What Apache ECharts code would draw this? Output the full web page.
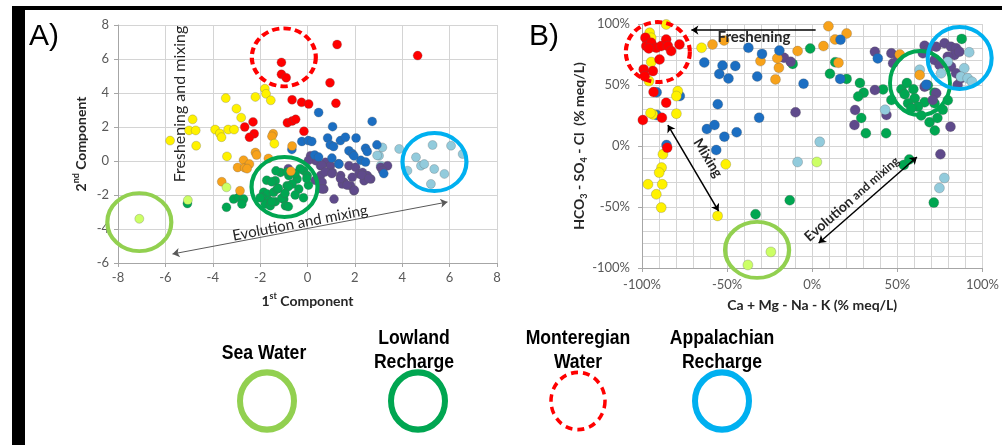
<!DOCTYPE html>
<html><head><meta charset="utf-8">
<script src="https://cdn.jsdelivr.net/npm/echarts@6/dist/echarts.min.js"></script>
<style>html,body{margin:0;padding:0;background:#fff}#c{width:1002px;height:445px}</style>
</head><body><div id="c"></div>
<script>
// ---------- Panel A: PCA scores (1st, 2nd component) ----------
const A_yellow = [[-5.8,1.2],[-4.85,2.45],[-5.0,1.8],[-4.72,1.8],[-4.7,0.9],[-3.45,3.7],[-3.0,3.08],[-2.8,2.55],[-3.9,1.85],[-3.7,1.62],[-3.63,1.4],[-3.35,1.85],[-3.1,1.85],[-3.4,0.27],[-2.2,3.77],[-1.8,4.25],[-1.75,3.95],[-1.55,3.57],[-1.4,1.02]];
const A_orange = [[-1.45,1.6],[-1.5,1.45],[-2.2,0.5],[-2.15,0.35],[-2.7,0.05],[-2.95,-0.38],[-2.65,-0.4],[-2.45,-0.18],[-2.55,-0.45],[-1.65,0.15],[-3.62,-1.22],[-2.85,-1.75],[-0.65,0.88],[-0.7,-0.6]];
const A_red = [[-1.1,5.8],[-1.1,5.1],[-0.9,4.9],[1.25,6.85],[4.65,6.2],[0.95,4.6],[1.2,3.4],[-0.65,3.6],[-0.25,3.45],[0.05,3.35],[-0.85,2.25],[-0.65,2.35],[-0.5,2.45],[-0.15,1.75],[-2.3,2.3],[-2.65,2.0],[-2.25,1.6],[-2.45,1.4]];
const A_blue = [[0.47,2.85],[1.06,2.02],[2.73,2.33],[-0.24,1.15],[0.04,1.2],[0.18,1.15],[0.85,1.35],[0.96,0.95],[1.1,0.85],[1.39,1.2],[1.6,1.4],[2.05,1.35],[2.45,0.75],[2.52,0.56],[2.93,0.95],[-0.66,0.68],[0.3,0.35],[0.47,0.23],[1.03,0.17],[1.31,-0.16],[1.75,0.6],[1.9,0.42],[2.25,0.04],[2.45,-0.06],[3.22,-0.74],[1.33,-0.18],[1.96,0.3]];
const A_purple = [[0.13,0.31],[0.34,0.02],[0.55,-0.28],[0.76,-0.08],[0.97,-0.28],[1.05,-0.67],[0.55,-0.86],[0.62,-1.25],[0.69,-1.65],[1.4,-0.86],[1.54,-1.25],[1.75,-0.28],[2.03,-0.37],[2.17,-0.76],[1.89,-0.96],[2.32,-0.67],[2.53,-0.86],[2.67,-1.06],[2.39,-1.16],[1.82,-1.45],[1.47,-1.35],[1.96,-1.75],[1.12,-2.24],[3.09,-0.37],[3.38,-0.28],[3.17,-0.57],[0.04,0.04],[0.61,-0.25],[0.75,-0.64],[1.03,-0.74],[-0.81,-0.45],[0.33,-1.13],[0.61,-1.65],[1.98,-1.71],[1.39,-1.03],[1.67,-1.42],[2.3,-0.83],[2.59,-1.03]];
const A_green = [[-5.07,-2.5],[-3.42,-2.72],[-3.12,-2.24],[-2.91,-2.14],[-2.7,-2.24],[-2.77,-2.53],[-1.85,-1.84],[-1.71,-1.94],[-1.92,-2.14],[-1.64,-2.33],[-1.43,-1.84],[-1.28,-1.65],[-1.36,-2.39],[-1.0,-2.24],[-0.86,-1.45],[-1.14,-0.67],[-1.36,-1.16],[-0.79,-0.86],[-0.44,-1.06],[-0.37,-1.65],[-0.65,-1.35],[-0.16,-0.57],[-0.01,-0.86],[-1.78,-2.53],[-1.57,-2.63],[-0.93,-2.63],[-1.33,-0.58],[-1.72,-1.13],[-1.51,-1.22],[-0.85,-0.64],[-0.31,-0.45],[-0.52,-0.74],[-0.81,-1.51],[-1.23,-1.61],[-1.51,-2.39],[-1.09,-2.19],[-0.81,-2.68],[-0.52,-2.0],[-0.17,-2.16],[0.04,-1.42],[-2.0,-2.16],[-0.95,-1.9],[-0.03,-1.03]];
const A_lightblue = [[3.16,0.8],[3.87,0.71],[3.02,0.31],[3.09,-0.28],[4.58,0.22],[4.79,-0.28],[5.28,0.94],[6.06,0.9],[6.55,0.41],[5.35,-0.47],[5.78,-0.76],[5.21,-1.35],[4.22,-0.57],[4.93,-0.18],[2.94,0.33]];
const A_sea = [[-7.1,-3.4],[-5.05,-2.3],[-3.42,-1.55]];
// end-member circles (centre, size) and arrow for panel A
const A_circles = [
  {name:'Monteregian Water', c:[-1.0,6.1], s:[64,58]},
  {name:'Sea Water', c:[-7.1,-3.6], s:[64,58]},
  {name:'Lowland Recharge', c:[-0.97,-1.53], s:[66,60]},
  {name:'Appalachian Recharge', c:[5.36,-0.06], s:[64,58]}
];
const A_arrow = [[-5.7,-5.47],[5.91,-2.41]];
const A_ticks = {min:-8, max:8, ymin:-6, ymax:8, step:2};

// ---------- Panel B: ionic balance (% meq/L) ----------
const B_yellow = [[-95.5,92.8],[-85.8,99.6],[-94.6,88.7],[-94.6,68.8],[-95.9,53.2],[-79,45],[-79.8,40.9],[-79.8,26.5],[-93.6,25.9],[-87.7,-6.8],[-88.5,-17.7],[-89.9,-21.8],[-96.5,-31.4],[-88.1,-31.4],[-91.6,-39.6],[-88.7,-50.5],[-50.8,-15],[-55.6,-57.3],[-65,80.5],[-95,27]];
const B_orange = [[9.5,98.2],[20.2,92.2],[6.6,81.9],[13.4,87.3],[15.4,68.2],[-8.6,77.8],[-21.6,54.6],[-19.6,64.1],[-30.4,69.6],[-58.6,83.2],[-51.8,86.5],[51.4,75],[-20.5,71.9],[63.1,58.2]];
const B_red = [[-98,88.7],[-97.5,81.9],[-94.6,84.6],[-91.6,80.5],[-88.7,81.9],[-85.8,87.3],[-84.8,81.9],[-82.9,77.8],[-78,83.2],[-89.7,70.9],[-99,62.8],[-93.6,61.4],[-98.4,57.3],[-85.8,35.5],[-88.3,23.2],[-99.5,21.3],[-93.2,44.2],[-85.2,-1.4],[-96,80]];
const B_blue = [[-37.5,80.5],[-29.5,75.5],[-19.3,78.3],[-63.4,68.4],[-52.7,66],[-54.6,59],[-49.2,55.3],[-45.2,65.6],[-32.3,57],[-5.1,51],[-55.5,34.2],[-31.2,23.2],[-61.9,13.9],[-57.4,17.2],[-51.6,7.6],[-44.4,11.2],[-56.4,-3.3],[-85.6,0.8],[-91.4,44],[-77.8,41],[-91.4,25.4],[16.6,87.1],[38.5,71.8],[16.4,55],[67,50.3]];
const B_green = [[-1.2,79.9],[13.5,68.7],[10.4,59.2],[20.2,55],[28,51.6],[30.2,43.7],[27,40.6],[28.8,23],[31.5,10.4],[43.4,10.4],[41.6,46.4],[46.5,37.7],[52.4,46.5],[55.6,51.6],[59.4,46.5],[54.3,42.4],[60.2,39.1],[66,35.8],[62.1,32.2],[64,25],[68.9,19.5],[72,12.7],[73.5,23],[76.7,29.7],[79.6,37.5],[87.8,87.8],[71.8,35],[56.3,35],[58.2,31],[71.8,43.7],[67.9,49.7],[-11.5,67.3],[-13.2,-44.5],[-33.3,-55.9],[53.8,-15.5],[57,-11],[71.4,-46.4]];
const B_purple = [[36.8,77.2],[46.5,76],[47.5,67.8],[50.4,73.2],[66,82.2],[67.9,78.7],[65,76],[72.8,81.4],[77.7,84.2],[81.5,81.4],[84.5,80.1],[83.5,74.6],[86.4,77.3],[79.6,73.2],[71.8,70.5],[74.8,66.4],[81.5,65],[84.5,59.6],[87.4,55.5],[85.4,50],[72.8,43.2],[70.8,37.7],[66,48.6],[36.8,45.9],[25.2,29.5],[24.8,17.2],[43.6,25.4],[81.2,15.8],[75.3,-6.8],[-16.6,72.4],[-12.7,69.1],[-9.8,27.6]];
const B_lightblue = [[4.4,3.4],[-8.6,-13.1],[77.6,-26.2],[74.7,-34.4],[63.1,62.5],[42.8,29.7],[92.2,76.8],[89.3,63.7],[87.3,56.8],[91.3,55.5],[93.8,52.7],[75.7,59.6],[79.6,69.1]];
const B_sea = [[-37.8,-97.5],[-24.3,-86.8],[2.7,-13.1]];
const B_circles = [
  {name:'Monteregian Water', c:[-90.7,77], s:[64,60]},
  {name:'Lowland Recharge', c:[63.3,51.6], s:[60,64]},
  {name:'Appalachian Recharge', c:[86.6,72.1], s:[64,62]},
  {name:'Sea Water', c:[-32.4,-85.2], s:[64,56]}
];
const B_fresh = [[2,95],[-71,95]];
const B_mix = [[-84.8,17.2],[-55,-53.3]];
const B_evol = [[3.8,-79.5],[61.5,-9]];

// legend entries
const legendNames = ['Sea Water','Lowland\nRecharge','Monteregian\nWater','Appalachian\nRecharge'];

const COL = {yellow:'#FFF200', orange:'#F7A21B', red:'#FF0000', blue:'#1B6EC2', purple:'#5F4A8B', green:'#00A651', lightblue:'#92CBDC', sea:'#CCFF66'};
const CIRC = {'Sea Water':'#92D050','Lowland Recharge':'#00A651','Monteregian Water':'#FF0000','Appalachian Recharge':'#00B0F0'};

function pts(data, color, xi, size){
  return {type:'scatter', xAxisIndex:xi, yAxisIndex:xi, data:data, symbolSize:size, silent:true,
    itemStyle:{color:color, borderColor:'rgba(90,90,90,0.45)', borderWidth:0.6, opacity:1}};
}
function circles(list, xi){
  return list.map(o => ({type:'scatter', xAxisIndex:xi, yAxisIndex:xi, silent:true, z:5,
    data:[o.c], symbol:'circle', symbolSize:o.s,
    itemStyle:{color:'rgba(0,0,0,0)', borderColor:CIRC[o.name], borderWidth:4,
      borderType: o.name==='Monteregian Water' ? [7,4] : 'solid', opacity:1}}));
}
function arrow(coords, xi, color, width, sym){
  return {type:'lines', coordinateSystem:'cartesian2d', xAxisIndex:xi, yAxisIndex:xi, silent:true, z:6,
    symbol:sym, symbolSize:7, data:[{coords:coords}],
    lineStyle:{color:color, width:width, opacity:1, curveness:0}};
}

const lab = {color:'#595959', fontFamily:'Lato', fontSize:13};
const axA = {axisLine:{show:true, onZero:false, lineStyle:{color:'#a6a6a6'}}, axisTick:{show:true, length:4, lineStyle:{color:'#a6a6a6'}},
  splitLine:{show:true, lineStyle:{color:'#d4d4d4'}}};
const legFont = "'Liberation Sans'";

const option = {
  animation:false,
  grid:[{left:118, top:25, width:379, height:238},{left:642, top:24, width:343, height:244}],
  xAxis:[
    Object.assign({type:'value', gridIndex:0, min:A_ticks.min, max:A_ticks.max, interval:A_ticks.step,
      axisLabel:Object.assign({margin:8}, lab),
      name:'{a|1}{s|st}{a| Component}', nameLocation:'middle', nameGap:29,
      nameTextStyle:{rich:{a:{fontFamily:'Lato', fontWeight:'bold', fontSize:14, color:'#262626', lineHeight:18},
        s:{fontFamily:'Lato', fontWeight:'bold', fontSize:9, color:'#262626', verticalAlign:'top', lineHeight:12}}}}, axA),
    Object.assign({type:'value', gridIndex:1, min:-100, max:100, interval:50,
      axisLabel:Object.assign({margin:10, formatter:v=>v+'%'}, lab),
      minorTick:{show:false, splitNumber:5}, minorSplitLine:{show:true, lineStyle:{color:'#d4d4d4'}},
      name:'Ca + Mg - Na - K (% meq/L)', nameLocation:'middle', nameGap:30,
      nameTextStyle:{fontFamily:'Lato', fontWeight:'bold', fontSize:14, color:'#262626'}}, axA)
  ],
  yAxis:[
    Object.assign({type:'value', gridIndex:0, min:A_ticks.ymin, max:A_ticks.ymax, interval:A_ticks.step,
      axisLabel:Object.assign({margin:9}, lab),
      name:'{a|2}{s|nd}{a| Component}', nameLocation:'middle', nameGap:28, nameRotate:90,
      nameTextStyle:{rich:{a:{fontFamily:'Lato', fontWeight:'bold', fontSize:14, color:'#262626', lineHeight:18},
        s:{fontFamily:'Lato', fontWeight:'bold', fontSize:9, color:'#262626', verticalAlign:'top', lineHeight:12}}}}, axA),
    Object.assign({type:'value', gridIndex:1, min:-100, max:100, interval:50,
      axisLabel:Object.assign({margin:12, formatter:v=>v+'%'}, lab),
      minorTick:{show:false, splitNumber:5}, minorSplitLine:{show:true, lineStyle:{color:'#d4d4d4'}},
      name:'{a|HCO}{b|3}{a| - SO}{b|4}{a| - Cl  (% meq/L)}', nameLocation:'middle', nameGap:47, nameRotate:90,
      nameTextStyle:{rich:{a:{fontFamily:'Lato', fontWeight:'bold', fontSize:14, color:'#262626', lineHeight:18},
        b:{fontFamily:'Lato', fontWeight:'bold', fontSize:9, color:'#262626', verticalAlign:'bottom', lineHeight:12}}}}, axA)
  ],
  series:[
    pts(A_lightblue, COL.lightblue, 0, 9), pts(A_purple, COL.purple, 0, 9), pts(A_blue, COL.blue, 0, 9),
    pts(A_green, COL.green, 0, 9), pts(A_orange, COL.orange, 0, 9), pts(A_yellow, COL.yellow, 0, 9),
    pts(A_red, COL.red, 0, 9), pts(A_sea, COL.sea, 0, 9),
    ...circles(A_circles, 0),
    arrow(A_arrow, 0, '#595959', 1, ['arrow','arrow']),
    pts(B_green, COL.green, 1, 10), pts(B_purple, COL.purple, 1, 10), pts(B_lightblue, COL.lightblue, 1, 10),
    pts(B_orange, COL.orange, 1, 10), pts(B_blue, COL.blue, 1, 10), pts(B_yellow, COL.yellow, 1, 10),
    pts(B_red, COL.red, 1, 10), pts(B_sea, COL.sea, 1, 10),
    ...circles(B_circles, 1),
    arrow(B_fresh, 1, '#000', 1.5, ['none','arrow']),
    arrow(B_mix, 1, '#000', 1.5, ['arrow','arrow']),
    arrow(B_evol, 1, '#000', 1.5, ['arrow','arrow'])
  ],
  graphic:[
    {type:'rect', shape:{x:12, y:6, width:990, height:4}, style:{fill:'#000'}, silent:true},
    {type:'rect', shape:{x:12, y:6, width:13, height:439}, style:{fill:'#000'}, silent:true},
    {type:'text', x:29, y:22, style:{text:'A)', fontFamily:'Liberation Sans', fontSize:30, fill:'#000'}, silent:true},
    {type:'text', x:529, y:22, style:{text:'B)', fontFamily:'Liberation Sans', fontSize:30, fill:'#000'}, silent:true},
    {type:'text', x:180, y:104, rotation:Math.PI/2, style:{text:'Freshening and mixing', fontFamily:'Lato', fontSize:16, fill:'#262626', align:'center', verticalAlign:'middle'}, silent:true, z:10},
    {type:'text', x:300, y:223, rotation:0.19, style:{text:'Evolution and mixing', fontFamily:'Lato', fontSize:15, fill:'#262626', align:'center', verticalAlign:'middle'}, silent:true, z:10},
    {type:'text', x:754, y:37, style:{text:'Freshening', fontFamily:'Lato', fontWeight:'bold', fontSize:15, fill:'#262626', align:'center', verticalAlign:'middle'}, silent:true, z:10},
    {type:'text', x:708, y:158, rotation:-1.03, style:{text:'Mixing', fontFamily:'Lato', fontWeight:'bold', fontSize:14, fill:'#262626', align:'center', verticalAlign:'middle'}, silent:true, z:10},
    {type:'text', x:852, y:199, rotation:0.72, style:{text:'{a|Evolution }{b|and mixing}', fill:'#262626', align:'center', verticalAlign:'middle',
      rich:{a:{fontFamily:'Lato', fontWeight:'bold', fontSize:14, fill:'#262626'}, b:{fontFamily:'Lato', fontWeight:'bold', fontSize:12, fill:'#262626'}}}, silent:true, z:10},
    // legend
    {type:'text', x:264, y:353, scaleX:0.88, style:{text:legendNames[0], fontFamily:legFont, fontWeight:'bold', fontSize:20, fill:'#000', align:'center', verticalAlign:'middle'}, silent:true},
    {type:'text', x:414, y:350, scaleX:0.88, style:{text:legendNames[1], fontFamily:legFont, fontWeight:'bold', fontSize:20, lineHeight:24, fill:'#000', align:'center', verticalAlign:'middle'}, silent:true},
    {type:'text', x:578, y:350, scaleX:0.88, style:{text:legendNames[2], fontFamily:legFont, fontWeight:'bold', fontSize:20, lineHeight:24, fill:'#000', align:'center', verticalAlign:'middle'}, silent:true},
    {type:'text', x:722, y:350, scaleX:0.88, style:{text:legendNames[3], fontFamily:legFont, fontWeight:'bold', fontSize:20, lineHeight:24, fill:'#000', align:'center', verticalAlign:'middle'}, silent:true},
    {type:'circle', x:267, y:401, scaleY:1.06, shape:{cx:0, cy:0, r:27}, style:{fill:'none', stroke:'#92D050', lineWidth:6}, silent:true},
    {type:'circle', x:418, y:401, scaleY:1.06, shape:{cx:0, cy:0, r:27}, style:{fill:'none', stroke:'#00A651', lineWidth:6}, silent:true},
    {type:'circle', x:578, y:401, scaleY:1.06, shape:{cx:0, cy:0, r:27}, style:{fill:'none', stroke:'#FF0000', lineWidth:3.5, lineDash:[7,5]}, silent:true},
    {type:'circle', x:722, y:401, scaleY:1.06, shape:{cx:0, cy:0, r:27}, style:{fill:'none', stroke:'#00B0F0', lineWidth:6}, silent:true}
  ]
};
const chart = echarts.init(document.getElementById('c'), null, {renderer:'canvas'});
chart.setOption(option);
</script></body></html>
